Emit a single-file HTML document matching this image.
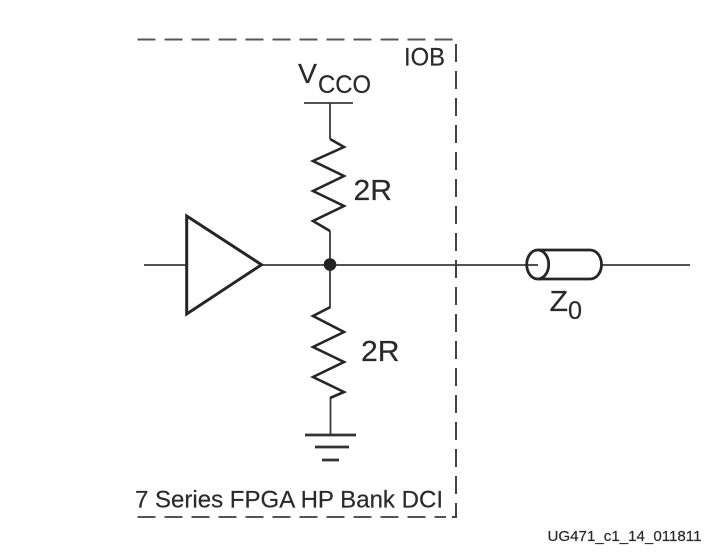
<!DOCTYPE html>
<html><head><meta charset="utf-8">
<style>
html,body{margin:0;padding:0;background:#fff;width:715px;height:556px;overflow:hidden}
svg{display:block;filter:blur(0.35px)}
text{font-family:"Liberation Sans",sans-serif;fill:#2a2a2e;stroke:#2a2a2e;stroke-width:0.2px}
</style></head>
<body>
<svg width="715" height="556" viewBox="0 0 715 556" xmlns="http://www.w3.org/2000/svg">
<g fill="none" stroke="#444" stroke-width="2">
<path d="M137.500 39.500H453" stroke-dasharray="18 9" stroke="#555"/>
<path d="M137.500 517H446" stroke-dasharray="18 9" stroke="#555"/>
<path d="M456 44V511" stroke-dasharray="18 9" stroke="#444"/>
<path d="M452 517H456V509" stroke="#444"/>
</g>
<g fill="none" stroke="#3a3a3a" stroke-width="1.800">
<path d="M304 103H353"/>
<path d="M330 103V139"/>
<path d="M330 231V265"/>
<path d="M330 265V307"/>
<path d="M330.500 398V435"/>
<path d="M144 265H186"/>
<path d="M261 265H527"/>
<path d="M601 265H690"/>
<path d="M527 265H538"/>
</g>
<g fill="none" stroke="#262626" stroke-width="2.600" stroke-linejoin="miter">
<path d="M330 139L344 147L313 161L344 176L313 191L344 206L313 221L330 231"/>
<path d="M330.500 307L313 316L344 332L313 347L344 362L313 377L344 392L330 398"/>
<path d="M186.700 216V314L261.500 264.700Z" stroke-width="3"/>
</g>
<g stroke="#333" stroke-width="2.700">
<path d="M305 435H356"/>
<path d="M315 447H349"/>
<path d="M322 460H339"/>
</g>
<circle cx="330" cy="264.500" r="6.300" fill="#222"/>
<g fill="none" stroke="#262626" stroke-width="2.800">
<ellipse cx="537.700" cy="264.500" rx="11" ry="14.500"/>
<path d="M537.700 250H590C597 250 601.500 257 601.500 264.500C601.500 272 597 279 590 279H537.700"/>
</g>
<text x="298" y="83" font-size="28" textLength="19" lengthAdjust="spacingAndGlyphs">V</text>
<text x="318" y="93" font-size="25" textLength="53" lengthAdjust="spacingAndGlyphs">CCO</text>
<text x="404" y="65.500" font-size="25" textLength="41" lengthAdjust="spacingAndGlyphs">IOB</text>
<text x="353.500" y="200" font-size="29" textLength="38.500" lengthAdjust="spacingAndGlyphs">2R</text>
<text x="361" y="361" font-size="29" textLength="38.500" lengthAdjust="spacingAndGlyphs">2R</text>
<text x="549.500" y="311" font-size="29" textLength="18.500" lengthAdjust="spacingAndGlyphs">Z</text>
<text x="568" y="319" font-size="25" textLength="14" lengthAdjust="spacingAndGlyphs">0</text>
<text x="135" y="507.500" font-size="24" textLength="308" lengthAdjust="spacingAndGlyphs">7 Series FPGA HP Bank DCI</text>
<text x="547.500" y="541" font-size="15" textLength="154" lengthAdjust="spacingAndGlyphs">UG471_c1_14_011811</text>
</svg>
</body></html>
